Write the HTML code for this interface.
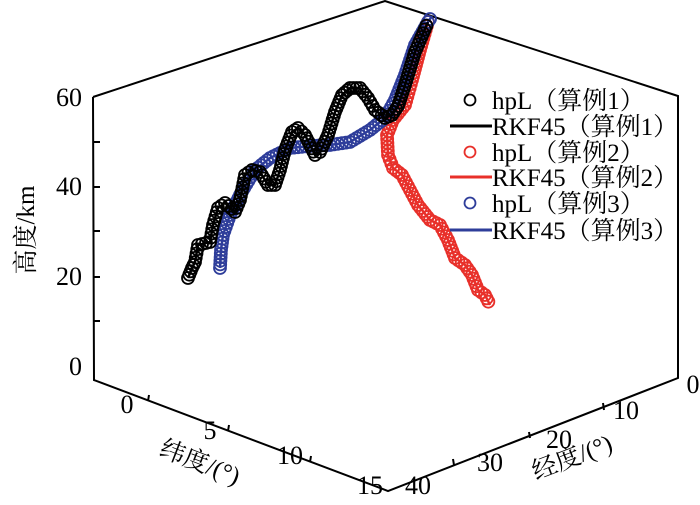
<!DOCTYPE html>
<html><head><meta charset="utf-8">
<style>
body{margin:0;background:#fff;}
svg{display:block;font-family:"Liberation Serif","Noto Serif CJK SC",serif;}
</style></head>
<body>
<svg id="s" width="700" height="505" viewBox="0 0 700 505" xmlns="http://www.w3.org/2000/svg">
<g stroke="#000" stroke-width="2" fill="none">
<polyline points="93,97 385,1 678,96 678,378 388,491 94,380 93,97"/>
<line x1="93" y1="142" x2="100" y2="142"/>
<line x1="93" y1="187" x2="100" y2="187"/>
<line x1="93" y1="231" x2="100" y2="231"/>
<line x1="93" y1="277" x2="100" y2="277"/>
<line x1="93" y1="321" x2="100" y2="321"/>
<line x1="148" y1="401" x2="149" y2="395"/>
<line x1="228" y1="431" x2="229" y2="425"/>
<line x1="310" y1="462" x2="311" y2="456"/>
<line x1="604" y1="410" x2="603" y2="403"/>
<line x1="530" y1="438" x2="529" y2="432"/>
<line x1="454" y1="465" x2="453" y2="459"/>
</g>
<g font-size="26" fill="#000">
<text x="82" y="106" text-anchor="end">60</text>
<text x="82" y="195" text-anchor="end">40</text>
<text x="82" y="285" text-anchor="end">20</text>
<text x="82" y="375" text-anchor="end">0</text>
<text x="127" y="413" text-anchor="middle">0</text>
<text x="210" y="439" text-anchor="middle">5</text>
<text x="290" y="464" text-anchor="middle">10</text>
<text x="370" y="494" text-anchor="middle">15</text>
<text x="418" y="494" text-anchor="middle">40</text>
<text x="490" y="471" text-anchor="middle">30</text>
<text x="559" y="448" text-anchor="middle">20</text>
<text x="626" y="419" text-anchor="middle">10</text>
<text x="693" y="393" text-anchor="middle">0</text>
<text transform="translate(34,230) rotate(-90)" text-anchor="middle" font-size="25">高度/km</text>
<text transform="translate(197,470) rotate(21)" text-anchor="middle" font-size="25">纬度/(°)</text>
<text transform="translate(575,465) rotate(-21)" text-anchor="middle" font-size="25">经度/(°)</text>
</g>
<g id="data"></g>
<g font-size="25" fill="#000">
<circle cx="470" cy="100" r="5.5" fill="none" stroke="#000" stroke-width="1.8"/>
<text x="492" y="109">hpL（算例1）</text>
<line x1="450" y1="126" x2="492" y2="126" stroke="#000" stroke-width="3"/>
<text x="492" y="135">RKF45（算例1）</text>
<circle cx="470" cy="152" r="5.5" fill="none" stroke="#e8302a" stroke-width="1.8"/>
<text x="492" y="161">hpL（算例2）</text>
<line x1="450" y1="177" x2="492" y2="177" stroke="#e8302a" stroke-width="3"/>
<text x="492" y="186">RKF45（算例2）</text>
<circle cx="470" cy="203" r="5.5" fill="none" stroke="#2e3d9a" stroke-width="1.8"/>
<text x="492" y="212">hpL（算例3）</text>
<line x1="450" y1="230" x2="492" y2="230" stroke="#2e3d9a" stroke-width="3"/>
<text x="492" y="239">RKF45（算例3）</text>
</g>
</svg>
<script>
var NS="http://www.w3.org/2000/svg",g=document.getElementById("data");
function draw(pts,col,step){
  var pl=document.createElementNS(NS,"polyline");
  pl.setAttribute("points",pts.map(p=>p.join(",")).join(" "));
  pl.setAttribute("fill","none");pl.setAttribute("stroke",col);pl.setAttribute("stroke-width","2.5");
  g.appendChild(pl);
  for(var i=0;i<pts.length-1;i++){
    var a=pts[i],b=pts[i+1],dx=b[0]-a[0],dy=b[1]-a[1],L=Math.hypot(dx,dy),n=Math.max(1,Math.round(L/step));
    for(var k=0;k<n;k++){
      var c=document.createElementNS(NS,"circle");
      c.setAttribute("cx",a[0]+dx*k/n);c.setAttribute("cy",a[1]+dy*k/n);
      c.setAttribute("r","6");c.setAttribute("fill","none");c.setAttribute("stroke",col);c.setAttribute("stroke-width","1.8");
      g.appendChild(c);
    }
  }
}
draw([[428,22],[420,50],[412,80],[405,105],[393,120],[387,135],[388,155],[393,168],[402,175],[410,190],[418,205],[430,220],[440,225],[448,240],[455,258],[465,265],[472,275],[478,290],[485,295],[490,305]],"#e8302a",4);
draw([[220,268],[221,250],[223,235],[230,215],[240,195],[255,170],[270,158],[290,148],[310,146],[330,145],[350,142],[370,130],[385,118],[395,100],[405,75],[415,45],[428,22],[432,16]],"#2e3d9a",4);
draw([[188,278],[192,268],[195,262],[198,245],[210,242],[213,225],[218,208],[225,203],[235,212],[240,200],[245,175],[252,170],[260,172],[268,185],[275,185],[280,170],[285,150],[292,132],[298,128],[305,135],[310,145],[315,155],[320,152],[328,135],[335,112],[342,95],[350,88],[360,88],[368,98],[375,110],[385,118],[392,115],[398,106],[405,85],[415,52],[428,22]],"#000",4);
</script>
</body></html>
